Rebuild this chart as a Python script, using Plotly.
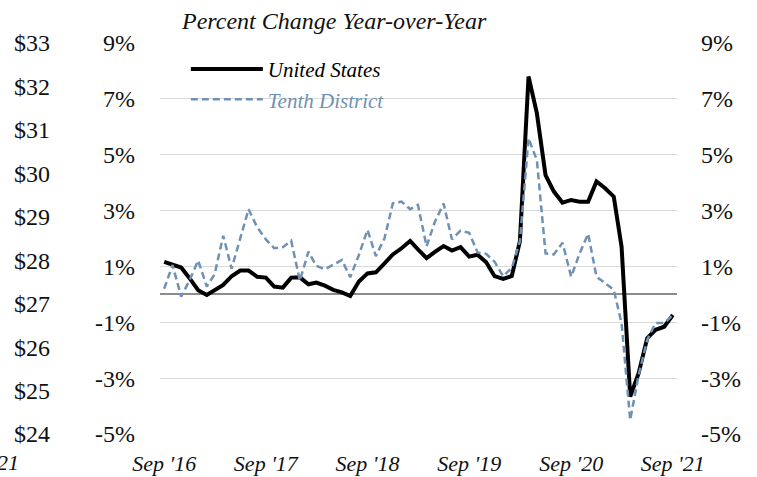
import plotly.graph_objects as go
import pandas as pd

months = pd.date_range("2016-09-01", "2021-09-01", freq="MS")

us_values = [1.16, 1.07, 0.96, 0.58, 0.15, -0.02, 0.16, 0.34, 0.65, 0.85,
             0.85, 0.63, 0.60, 0.28, 0.24, 0.60, 0.61, 0.36, 0.42, 0.31,
             0.16, 0.07, -0.06, 0.46, 0.75, 0.79, 1.11, 1.43, 1.65, 1.91,
             1.61, 1.30, 1.52, 1.73, 1.57, 1.69, 1.35, 1.42, 1.15, 0.65,
             0.55, 0.66, 1.90, 7.80, 6.48, 4.27, 3.68, 3.28, 3.38, 3.32,
             3.32, 4.04, 3.80, 3.50, 1.71, -3.66, -2.83, -1.57, -1.27, -1.16,
             -0.74]

tenth_values = [0.20, 1.05, -0.08, 0.50, 1.21, 0.28, 0.72, 2.10, 0.92, 2.00,
                3.05, 2.40, 1.97, 1.65, 1.69, 1.92, 0.49, 1.53, 1.02, 0.90,
                1.05, 1.23, 0.61, 1.41, 2.31, 1.37, 2.01, 3.26, 3.32, 3.05,
                3.20, 1.72, 2.60, 3.25, 1.97, 2.28, 2.20, 1.50, 1.45, 1.17,
                0.65, 0.95, 1.90, 5.59, 4.80, 1.47, 1.43, 1.85, 0.63, 1.45,
                2.17, 0.63, 0.40, 0.16, -1.03, -4.50, -2.90, -1.63, -1.03, -1.03,
                -0.74]

pct_ticks = [-5, -3, -1, 1, 3, 5, 7, 9]
pct_labels = ["-5%", "-3%", "-1%", "1%", "3%", "5%", "7%", "9%"]
dollar_ticks = [24, 25, 26, 27, 28, 29, 30, 31, 32, 33]
dollar_labels = ["$24", "$25", "$26", "$27", "$28", "$29", "$30", "$31", "$32", "$33"]
x_tick_dates = ["2016-09-01", "2017-09-01", "2018-09-01", "2019-09-01", "2020-09-01", "2021-09-01"]
x_tick_labels = ["Sep '16", "Sep '17", "Sep '18", "Sep '19", "Sep '20", "Sep '21"]

BLUE = "#6F91B4"
INK = "#111111"
SERIF = "Liberation Serif, Times New Roman, serif"

fig = go.Figure()
fig.add_trace(go.Scatter(x=months, y=us_values, mode="lines",
                         name="United States",
                         line=dict(color="black", width=4)))
fig.add_trace(go.Scatter(x=months, y=tenth_values, mode="lines",
                         name="<span style='color:%s'>Tenth District</span>" % BLUE,
                         line=dict(color=BLUE, width=2.5, dash="7px,4px")))
# invisible carriers so the mirror axes are drawn
fig.add_trace(go.Scatter(x=months, y=us_values, yaxis="y2", mode="lines",
                         line=dict(width=0), opacity=0, showlegend=False,
                         hoverinfo="skip"))
fig.add_trace(go.Scatter(x=months[:len(dollar_ticks)], y=dollar_ticks, yaxis="y3",
                         mode="lines", line=dict(width=0), opacity=0,
                         showlegend=False, hoverinfo="skip"))

x0 = months[0] - pd.Timedelta(days=15)
x1 = months[-1] + pd.Timedelta(days=15)

fig.update_layout(
    width=757, height=477,
    margin=dict(l=160, r=80, t=43, b=43),
    paper_bgcolor="white", plot_bgcolor="white",
    font=dict(family=SERIF, size=22, color=INK),
    showlegend=True,
    legend=dict(x=0.05, y=0.985, xanchor="left", yanchor="top",
                bgcolor="rgba(0,0,0,0)", itemwidth=72,
                font=dict(family=SERIF, size=21, color="black", style="italic"),
                tracegroupgap=0),
    xaxis=dict(range=[x0, x1], tickvals=x_tick_dates, ticktext=x_tick_labels,
               tickfont=dict(family=SERIF, size=22, style="italic", color=INK),
               showgrid=False, showline=False, zeroline=False, ticks="",
               ticklabelstandoff=14, automargin=False),
    yaxis=dict(range=[-5, 9], tickvals=pct_ticks, ticktext=pct_labels,
               showgrid=True, gridcolor="#d9d9d9", gridwidth=1.3,
               zeroline=True, zerolinecolor="#8c8c8c", zerolinewidth=1.5,
               showline=False, ticks="", ticklabelstandoff=24,
               tickfont=dict(family=SERIF, size=24), automargin=False),
    yaxis2=dict(range=[-5, 9], tickvals=pct_ticks, ticktext=pct_labels,
                overlaying="y", side="right", showgrid=False, zeroline=False,
                showline=False, ticks="", ticklabelstandoff=23,
                tickfont=dict(family=SERIF, size=24), automargin=False),
    yaxis3=dict(range=[24, 33], tickvals=dollar_ticks, ticktext=dollar_labels,
                overlaying="y", side="left", anchor="free", position=0,
                showgrid=False, zeroline=False, showline=False, ticks="",
                ticklabelstandoff=110, tickfont=dict(family=SERIF, size=24),
                automargin=False),
)

fig.add_annotation(text="Percent Change Year-over-Year", xref="paper", yref="paper",
                   x=0.037, y=1.055, xanchor="left", yanchor="middle", showarrow=False,
                   font=dict(family=SERIF, size=24, style="italic", color=INK))
fig.add_annotation(text="21", xref="paper", yref="paper",
                   x=-0.268, y=-0.072, xanchor="right", yanchor="middle", showarrow=False,
                   font=dict(family=SERIF, size=22, style="italic", color=INK))

fig.write_html("out.html", config={"displayModeBar": False},
               post_script="document.body.style.margin='0';")
